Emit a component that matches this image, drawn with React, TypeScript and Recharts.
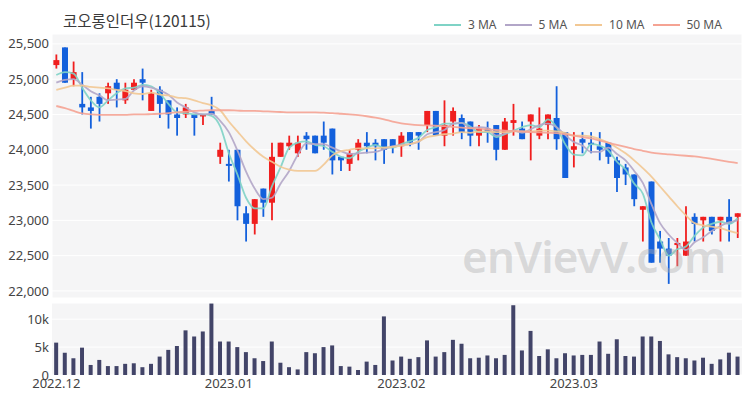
import React from 'react';
import {
  ComposedChart,
  BarChart,
  Bar,
  Line,
  XAxis,
  YAxis,
  CartesianGrid,
} from 'recharts';

const dates = [
  '2022-12-01', '2022-12-02', '2022-12-05', '2022-12-06', '2022-12-07', '2022-12-08', '2022-12-09',
  '2022-12-12', '2022-12-13', '2022-12-14', '2022-12-15', '2022-12-16', '2022-12-19', '2022-12-20',
  '2022-12-21', '2022-12-22', '2022-12-23', '2022-12-26', '2022-12-27', '2022-12-28', '2022-12-29',
  '2023-01-02', '2023-01-03', '2023-01-04', '2023-01-05', '2023-01-06', '2023-01-09', '2023-01-10',
  '2023-01-11', '2023-01-12', '2023-01-13', '2023-01-16', '2023-01-17', '2023-01-18', '2023-01-19',
  '2023-01-20', '2023-01-25', '2023-01-26', '2023-01-27', '2023-01-30', '2023-01-31',
  '2023-02-01', '2023-02-02', '2023-02-03', '2023-02-06', '2023-02-07', '2023-02-08', '2023-02-09',
  '2023-02-10', '2023-02-13', '2023-02-14', '2023-02-15', '2023-02-16', '2023-02-17', '2023-02-20',
  '2023-02-21', '2023-02-22', '2023-02-23', '2023-02-24', '2023-02-27', '2023-02-28',
  '2023-03-02', '2023-03-03', '2023-03-06', '2023-03-07', '2023-03-08', '2023-03-09', '2023-03-10',
  '2023-03-13', '2023-03-14', '2023-03-15', '2023-03-16', '2023-03-17', '2023-03-20', '2023-03-21',
  '2023-03-22', '2023-03-23', '2023-03-24', '2023-03-27', '2023-03-28',
];

const opens = [
  25200, 25450, 25000, 24650, 24600, 24750, 24800, 24950, 24700, 24850,
  25000, 24550, 24850, 24700, 24500, 24500, 24500, 24480, 24550, 23900,
  23800, 24000, 23100, 22950, 23450, 23250, 23900, 24050, 23950, 24200,
  24200, 24200, 24300, 23900, 23800, 24000, 24100, 24100, 24150, 24150,
  24050, 24250, 24250, 24350, 24550, 24200, 24400, 24450, 24400, 24200,
  24300, 24350, 24000, 24380, 24300, 24400, 24200, 24350, 24450, 24250,
  24000, 24150, 24100, 24050, 24100, 23850, 23750, 23650, 23150, 23550,
  22700, 22600, 22650, 22500, 23050, 23000, 23050, 23000, 23050, 23050,
];
const highs = [
  25350, 25450, 25250, 25100, 24750, 24800, 24950, 25000, 24950, 25000,
  25150, 24850, 24900, 24700, 24600, 24650, 24500, 24500, 24750, 24100,
  24000, 24000, 23200, 23300, 23450, 24100, 24100, 24200, 24200, 24250,
  24200, 24400, 24300, 23900, 24000, 24150, 24250, 24150, 24150, 24150,
  24250, 24250, 24250, 24550, 24550, 24700, 24600, 24500, 24400, 24350,
  24400, 24350, 24450, 24650, 24400, 24500, 24600, 24500, 24900, 24250,
  24250, 24250, 24250, 24250, 24100, 23900, 23800, 23650, 23200, 23550,
  22850, 22750, 22750, 23200, 23100, 23050, 23050, 23050, 23300, 23100,
];
const lows = [
  25150, 24950, 24900, 24500, 24300, 24400, 24650, 24600, 24650, 24850,
  24700, 24550, 24450, 24300, 24200, 24450, 24200, 24350, 24500, 23800,
  23550, 23000, 22700, 22800, 23050, 23000, 23900, 24000, 23900, 24000,
  23950, 24000, 23650, 23700, 23700, 23850, 23950, 23850, 23800, 23950,
  23900, 24050, 24000, 24250, 24200, 24050, 24200, 24150, 24050, 24050,
  24100, 23850, 24000, 24200, 24150, 23850, 24150, 24150, 24000, 23600,
  23750, 23950, 23950, 23850, 23800, 23400, 23500, 23200, 22700, 22400,
  22400, 22100, 22350, 22500, 22700, 22700, 22800, 22700, 22700, 22750,
];
const closes = [
  25270, 24950, 25100, 24600, 24550, 24650, 24900, 24850, 24850, 24950,
  24950, 24800, 24650, 24500, 24450, 24600, 24450, 24500, 24500, 24000,
  23780, 23200, 22950, 23300, 23250, 23900, 24100, 24100, 24100, 24150,
  23950, 24100, 23850, 23850, 23950, 24100, 24050, 24050, 24000, 24050,
  24200, 24100, 24200, 24550, 24200, 24350, 24550, 24250, 24200, 24300,
  24250, 24000, 24400, 24420, 24150, 24500, 24300, 24500, 24150, 23600,
  24050, 24100, 24080, 24000, 23900, 23600, 23650, 23300, 23200, 22400,
  22600, 22500, 22680, 22700, 22950, 23050, 22850, 23050, 22950, 23100,
];
const volumes = [
  5800, 4000, 3000, 4900, 1800, 2700, 1600, 1600, 2000, 2100,
  1400, 2000, 3300, 4500, 5200, 8000, 6900, 7800, 12800, 6000,
  6000, 5000, 4100, 3000, 2500, 6000, 2200, 1400, 1000, 4100,
  3900, 5000, 5300, 1600, 1500, 900, 2400, 1800, 10500, 2600,
  3300, 2900, 3200, 6200, 3300, 4100, 6300, 5600, 3000, 3100,
  3500, 3000, 3600, 12500, 4400, 7900, 3400, 4600, 3000, 3900,
  3500, 3600, 3600, 6000, 3800, 6400, 3400, 3300, 6900, 6900,
  6100, 3700, 3200, 3000, 2600, 3100, 2000, 2800, 4000, 3300,
];

// moving averages as drawn in the picture
const ma3 = [
  25060, 25100, 25080, 24880, 24700, 24600, 24700, 24800, 24870, 24880,
  24920, 24900, 24800, 24650, 24530, 24520, 24500, 24500, 24480, 24330,
  23950, 23650, 23320, 23170, 23170, 23480, 23750, 24030, 24100, 24120,
  24070, 24050, 23970, 23900, 23880, 23970, 24030, 24070, 24030, 24030,
  24080, 24120, 24170, 24280, 24320, 24370, 24370, 24380, 24330, 24250,
  24250, 24180, 24220, 24270, 24320, 24350, 24320, 24430, 24320, 24080,
  23930, 23920, 24080, 24060, 23990, 23830, 23720, 23520, 23380, 22970,
  22730, 22500, 22590, 22630, 22780, 22900, 22950, 22980, 22950, 23030,
];
const ma5 = [
  24950, 24990, 25000, 24920, 24830, 24770, 24700, 24710, 24720, 24840,
  24900, 24880, 24840, 24780, 24670, 24600, 24530, 24500, 24510, 24410,
  24250, 23990, 23690, 23450, 23300, 23320, 23520, 23700, 23930, 24090,
  24080, 24080, 24030, 23980, 23940, 23950, 23960, 23970, 24010, 24050,
  24070, 24080, 24110, 24220, 24250, 24280, 24370, 24380, 24310, 24320,
  24310, 24200, 24230, 24270, 24240, 24290, 24350, 24370, 24320, 24210,
  24110, 24060, 23970, 23970, 24030, 23940, 23850, 23700, 23530, 23230,
  22960, 22800, 22680, 22580, 22690, 22760, 22850, 22920, 22970, 23000,
];
const ma10 = [
  24850, 24880, 24910, 24910, 24890, 24880, 24870, 24850, 24830, 24800,
  24790, 24810, 24780, 24770, 24740, 24730, 24700, 24660, 24630, 24560,
  24400, 24260, 24120, 24000, 23900, 23830, 23760, 23720, 23700, 23700,
  23700, 23790, 23920, 23980, 24000, 24020, 24020, 24020, 24030, 24040,
  24060, 24080, 24120, 24180, 24200, 24220, 24230, 24250, 24240, 24260,
  24260, 24250, 24250, 24260, 24260, 24260, 24270, 24270, 24260, 24240,
  24200, 24200, 24190, 24150, 24100, 24030, 23950, 23850, 23740, 23620,
  23480, 23340, 23200, 23070, 22960, 22930, 22910, 22890, 22850, 22820,
];
const ma50 = [
  24620, 24590, 24550, 24515, 24500, 24495, 24495, 24495, 24495, 24500,
  24500, 24505, 24510, 24520, 24530, 24540, 24550, 24555, 24560, 24560,
  24560, 24555, 24550, 24550, 24545, 24540, 24535, 24530, 24530, 24530,
  24530, 24525, 24520, 24510, 24500, 24490, 24475, 24455, 24430, 24400,
  24375, 24360, 24350, 24345, 24340, 24335, 24325, 24315, 24305, 24300,
  24290, 24280, 24270, 24265, 24260, 24250, 24245, 24240, 24235, 24220,
  24200, 24180, 24160, 24130, 24100, 24070, 24040, 24010, 23985, 23960,
  23945, 23935, 23925, 23915, 23905, 23890, 23870, 23850, 23830, 23810,
];

const priceTicks = [22000, 22500, 23000, 23500, 24000, 24500, 25000, 25500];
const volumeTicks = [0, 5000, 10000];
const gridDates = ['2022-12-23', '2023-01-17', '2023-02-10', '2023-03-07'];
const volTickDates = ['2022-12-01', '2022-12-29', '2023-01-31', '2023-02-28'];
const volTickLabels = ['2022.12', '2023.01', '2023.02', '2023.03'];

const maSeries = [
  { key: 'ma3', name: '3 MA', color: '#7fd3c6' },
  { key: 'ma5', name: '5 MA', color: '#b2a6c8' },
  { key: 'ma10', name: '10 MA', color: '#f2c894' },
  { key: 'ma50', name: '50 MA', color: '#f5a393' },
];

const rows = dates.map((date, i) => ({
  date,
  open: opens[i],
  high: highs[i],
  low: lows[i],
  close: closes[i],
  volume: volumes[i],
  ma3: ma3[i],
  ma5: ma5[i],
  ma10: ma10[i],
  ma50: ma50[i],
}));

const RED = '#f01e1e';
const BLUE = '#1360dc';
const FONT = "'Noto Sans', 'Noto Sans CJK KR', sans-serif";

const Candle = (props: any) => {
  const { x, y, width, height, payload } = props;
  if (x == null || y == null || !payload) return null;
  const { open, close, high, low } = payload;
  const span = high - low;
  const k = span > 0 ? Math.abs(height) / span : 0;
  const top = Math.min(y, y + height);
  const yOf = (v: number) => top + (high - v) * k;
  const color = close >= open ? RED : BLUE;
  const cx = x + width / 2;
  const bodyTop = yOf(Math.max(open, close));
  const bodyH = Math.max(2, Math.abs(yOf(open) - yOf(close)));
  const bw = 6;
  return (
    <g>
      <line x1={cx} x2={cx} y1={top} y2={top + Math.abs(height)} stroke={color} strokeWidth={1.8} />
      <rect x={cx - bw / 2} y={bodyTop} width={bw} height={bodyH} fill={color} />
    </g>
  );
};

const volLabel = (v: string) => {
  const idx = volTickDates.indexOf(v);
  return idx >= 0 ? volTickLabels[idx] : '';
};

const volFmt = (v: number) => (v === 0 ? '0' : `${v / 1000}k`);

export default function App() {
  return (
    <div
      style={{
        position: 'absolute',
        left: 0,
        top: 0,
        width: 750,
        height: 400,
        background: '#fff',
        fontFamily: FONT,
        overflow: 'hidden',
      }}
    >
      <div
        style={{
          position: 'absolute',
          left: 63,
          top: 9,
          fontSize: 15.5,
          color: '#3a3a3a',
          fontFamily: "'Noto Sans CJK KR', 'Noto Sans', sans-serif",
          whiteSpace: 'nowrap',
        }}
      >
        코오롱인더우(120115)
      </div>

      <div style={{ position: 'absolute', left: 434, top: 16, display: 'flex', alignItems: 'center', fontSize: 12, color: '#555' }}>
        {maSeries.map((s) => (
          <div key={s.key} style={{ display: 'flex', alignItems: 'center', marginRight: 8 }}>
            <div style={{ width: 27, height: 2, background: s.color, marginRight: 7 }} />
            <span style={{ whiteSpace: 'nowrap' }}>{s.name}</span>
          </div>
        ))}
      </div>

      <div style={{ position: 'absolute', left: 0, top: 0 }}>
        <ComposedChart width={750} height={300} data={rows} margin={{ top: 34, right: 8, bottom: 2, left: 0 }}>
          <CartesianGrid fill="#f5f5f6" stroke="#ffffff" strokeWidth={1} />
          <XAxis
            dataKey="date"
            height={0}
            ticks={gridDates}
            interval={0}
            tick={false}
            tickLine={false}
            axisLine={false}
          />
          <YAxis
            domain={[21900, 25640]}
            ticks={priceTicks}
            allowDataOverflow
            width={52}
            tickSize={0}
            tickMargin={3}
            tickLine={false}
            axisLine={false}
            tick={{ fill: '#444', fontSize: 13, fontFamily: FONT }}
            tickFormatter={(v: number) => v.toLocaleString('en-US')}
          />
          <Bar dataKey={(d: any) => [d.low, d.high]} shape={<Candle />} isAnimationActive={false} />
          {maSeries.map((s) => (
            <Line
              key={s.key}
              type="monotone"
              dataKey={s.key}
              stroke={s.color}
              strokeWidth={1.8}
              strokeOpacity={0.9}
              dot={false}
              activeDot={false}
              isAnimationActive={false}
            />
          ))}
        </ComposedChart>
      </div>

      <div
        style={{
          position: 'absolute',
          left: 462,
          top: 234,
          fontSize: 44,
          fontWeight: 600,
          letterSpacing: -0.8,
          color: 'rgba(175,175,175,0.42)',
          fontFamily: "'Noto Sans', sans-serif",
          pointerEvents: 'none',
          whiteSpace: 'nowrap',
          lineHeight: 1,
        }}
      >
        enVievV.com
      </div>

      <div style={{ position: 'absolute', left: 0, top: 300 }}>
        <BarChart width={750} height={100} data={rows} margin={{ top: 3, right: 8, bottom: 4, left: 0 }} barCategoryGap="25%">
          <CartesianGrid fill="#f5f5f6" stroke="#ffffff" vertical={false} />
          <XAxis
            dataKey="date"
            height={21}
            ticks={volTickDates}
            interval={0}
            tickLine={false}
            axisLine={false}
            tickSize={0}
            tickMargin={4}
            tick={{ fill: '#444', fontSize: 13, fontFamily: FONT }}
            tickFormatter={volLabel}
          />
          <YAxis
            domain={[0, 12900]}
            ticks={volumeTicks}
            allowDataOverflow
            width={52}
            tickSize={0}
            tickMargin={3}
            tickLine={false}
            axisLine={false}
            tick={{ fill: '#444', fontSize: 13, fontFamily: FONT }}
            tickFormatter={volFmt}
          />
          <Bar dataKey="volume" fill="#424468" isAnimationActive={false} />
        </BarChart>
      </div>
    </div>
  );
}
